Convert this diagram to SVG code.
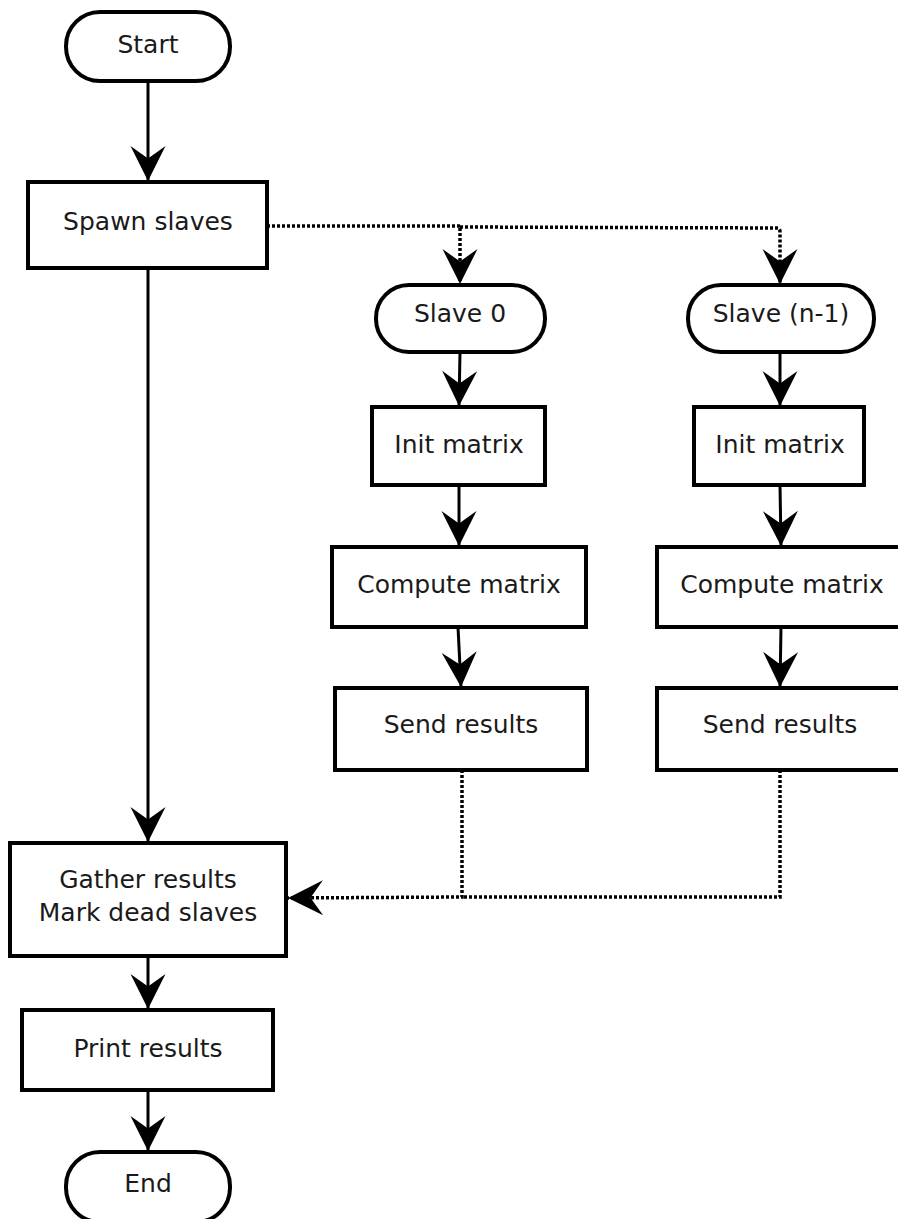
<svg xmlns="http://www.w3.org/2000/svg" width="898" height="1219" viewBox="0 0 898 1219">
  <style>
    .box { fill: #ffffff; stroke: #000000; stroke-width: 4; }
    .lbl { font-family: "DejaVu Sans", "Liberation Sans", sans-serif; font-size: 25px; fill: #1a1a1a; text-anchor: middle; }
    .flow { fill: none; stroke: #000000; stroke-width: 3; }
    .msg { fill: none; stroke: #000000; stroke-width: 3.5; stroke-dasharray: 3 2; }
  </style>
  <defs>
    <marker id="arrow" markerUnits="userSpaceOnUse" markerWidth="40" markerHeight="40" viewBox="-30 -16 32 32" refX="0" refY="0" orient="auto">
      <path d="M0,0 L-28,-14 L-18,0 L-28,14 Z" fill="#000000"/>
    </marker>
  </defs>
  <rect width="898" height="1219" fill="#ffffff"/>

  <!-- connectors -->
  <g id="connectors">
    <path class="flow" d="M148,81 L148,181" marker-end="url(#arrow)"/>
    <path class="flow" d="M148,268 L148,842" marker-end="url(#arrow)"/>
    <path class="msg" d="M267,226 L460,226 L460,284" marker-end="url(#arrow)"/>
    <path class="msg" d="M460,227 L778,228 Q780,229 780,232 L780,284" marker-end="url(#arrow)"/>
    <path class="flow" d="M460,352 L459,406" marker-end="url(#arrow)"/>
    <path class="flow" d="M780,352 L780,406" marker-end="url(#arrow)"/>
    <path class="flow" d="M459,485 L459,546" marker-end="url(#arrow)"/>
    <path class="flow" d="M780,485 L781,546" marker-end="url(#arrow)"/>
    <path class="flow" d="M458,627 L461,687" marker-end="url(#arrow)"/>
    <path class="flow" d="M781,627 L780,687" marker-end="url(#arrow)"/>
    <path class="msg" d="M462,770 L462,897 L288,898" marker-end="url(#arrow)"/>
    <path class="msg" d="M780,770 L780,897 L462,897"/>
    <path class="flow" d="M148,957 L148,1009" marker-end="url(#arrow)"/>
    <path class="flow" d="M148,1090 L148,1151" marker-end="url(#arrow)"/>
  </g>

  <!-- nodes -->
  <g id="start">
    <rect class="box" x="66" y="12" width="164" height="69" rx="34" ry="34"/>
    <text class="lbl" x="148" y="53">Start</text>
  </g>
  <g id="spawn">
    <rect class="box" x="28" y="182" width="239" height="86"/>
    <text class="lbl" x="148" y="230">Spawn slaves</text>
  </g>
  <g id="slave0">
    <rect class="box" x="376" y="285" width="169" height="67" rx="33" ry="33"/>
    <text class="lbl" x="460" y="322">Slave 0</text>
  </g>
  <g id="slaveN">
    <rect class="box" x="688" y="285" width="186" height="67" rx="33" ry="33"/>
    <text class="lbl" x="781" y="322">Slave (n-1)</text>
  </g>
  <g id="init0">
    <rect class="box" x="372" y="407" width="173" height="78"/>
    <text class="lbl" x="459" y="453">Init matrix</text>
  </g>
  <g id="initN">
    <rect class="box" x="694" y="407" width="170" height="78"/>
    <text class="lbl" x="780" y="453">Init matrix</text>
  </g>
  <g id="compute0">
    <rect class="box" x="332" y="547" width="254" height="80"/>
    <text class="lbl" x="459" y="593">Compute matrix</text>
  </g>
  <g id="computeN">
    <rect class="box" x="657" y="547" width="250" height="80"/>
    <text class="lbl" x="782" y="593">Compute matrix</text>
  </g>
  <g id="send0">
    <rect class="box" x="335" y="688" width="252" height="82"/>
    <text class="lbl" x="461" y="733">Send results</text>
  </g>
  <g id="sendN">
    <rect class="box" x="657" y="688" width="250" height="82"/>
    <text class="lbl" x="780" y="733">Send results</text>
  </g>
  <g id="gather">
    <rect class="box" x="10" y="843" width="276" height="113"/>
    <text class="lbl" x="148" y="888">Gather results</text>
    <text class="lbl" x="148" y="921">Mark dead slaves</text>
  </g>
  <g id="print">
    <rect class="box" x="22" y="1010" width="251" height="80"/>
    <text class="lbl" x="148" y="1057">Print results</text>
  </g>
  <g id="end">
    <rect class="box" x="66" y="1152" width="164" height="70" rx="34" ry="34"/>
    <text class="lbl" x="148" y="1192">End</text>
  </g>
</svg>
